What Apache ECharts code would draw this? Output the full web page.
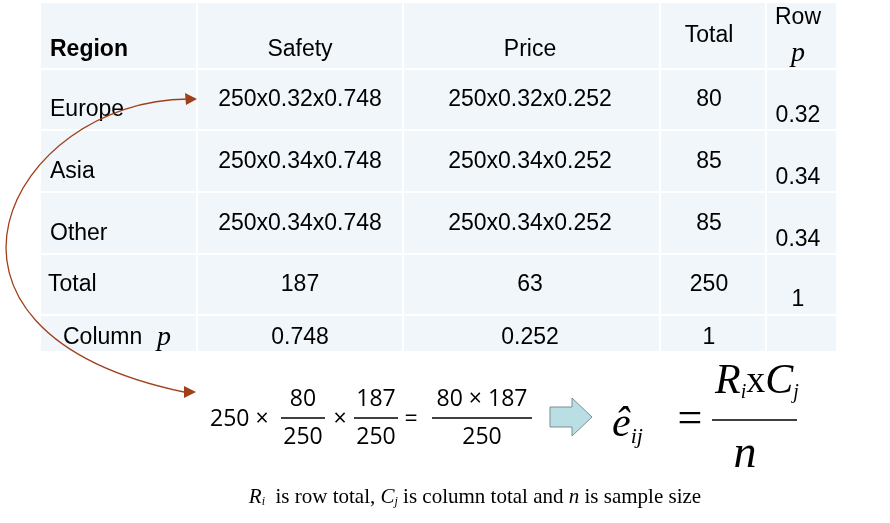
<!DOCTYPE html>
<html>
<head>
<meta charset="utf-8">
<script src="https://cdn.jsdelivr.net/npm/echarts@6/dist/echarts.min.js"></script>
<style>html,body{margin:0;background:#fff}#c{width:890px;height:523px}</style>
</head>
<body>
<div id="c"></div>
<script>
// table contents
var headers = ['Region', 'Safety', 'Price', 'Total', 'Row']
var regions = ['Europe', 'Asia', 'Other', 'Total', 'Column']
var safety = ['250x0.32x0.748', '250x0.34x0.748', '250x0.34x0.748', '187', '0.748']
var price = ['250x0.32x0.252', '250x0.34x0.252', '250x0.34x0.252', '63', '0.252']
var totals = ['80', '85', '85', '250', '1']
var rowP = ['0.32', '0.34', '0.34', '1', '']

var colX = [40, 197, 403, 660, 766, 837]
var rowY = [2, 69, 130, 192, 254, 315, 352]
var sans = 'Liberation Sans, Arial, sans-serif'
var serif = 'Liberation Serif, Times New Roman, serif'

var g = []
// cell backgrounds
for (var r = 0; r < rowY.length - 1; r++) {
  for (var c = 0; c < colX.length - 1; c++) {
    g.push({ type: 'rect', shape: { x: colX[c] + 1, y: rowY[r] + 1, width: colX[c + 1] - colX[c] - 2, height: rowY[r + 1] - rowY[r] - 2 }, style: { fill: '#f0f6fa' } })
  }
}
function txt(x, y, t, o) {
  o = o || {}
  g.push({ type: 'text', x: x, y: y, style: { text: t, fill: '#000', font: (o.i ? 'italic ' : '') + (o.w || 'normal') + ' ' + (o.s || 23) + 'px ' + (o.f || sans), align: o.a || 'center', verticalAlign: 'middle' } })
}
var cx = [300, 530, 709, 798]
txt(50, 50, headers[0], { a: 'left', w: 'bold' })
txt(cx[0], 50, headers[1])
txt(cx[1], 50, headers[2])
txt(cx[2], 36, headers[3])
txt(cx[3], 18, headers[4])
txt(cx[3], 54, 'p', { f: serif, i: true, s: 28 })

var labY = [110, 172, 234, 285, 338]
var valY = [100, 162, 224, 285, 338]
var pY = [116, 178, 240, 300, 338]
for (var i = 0; i < regions.length; i++) {
  if (i < 4) txt(i === 3 ? 48 : 50, labY[i], regions[i], { a: 'left' })
  txt(cx[0], valY[i], safety[i])
  txt(cx[1], valY[i], price[i])
  txt(cx[2], valY[i], totals[i])
  if (rowP[i]) txt(cx[3], pY[i], rowP[i])
}
txt(63, 338, regions[4], { a: 'left' })
txt(157, 338, 'p', { a: 'left', f: serif, i: true, s: 28 })

// curved arrow
g.push({ type: 'bezierCurve', shape: { x1: 188, y1: 99, cpx1: 10, cpy1: 100, cpx2: -110, cpy2: 330, x2: 184, y2: 392 }, style: { stroke: '#a0401a', lineWidth: 1.3, fill: null } })
g.push({ type: 'polygon', shape: { points: [[197, 99], [185, 93], [186, 105]] }, style: { fill: '#a0401a' } })
g.push({ type: 'polygon', shape: { points: [[196, 392], [184, 386], [184, 398]] }, style: { fill: '#a0401a' } })

// worked formula
var fs = { s: 23, f: 'Open Sans, Liberation Sans, sans-serif' }
txt(210, 419, '250 ×', { a: 'left', s: 23, f: fs.f })
function frac(x, num, den, w) {
  txt(x, 399, num, fs)
  txt(x, 437, den, fs)
  g.push({ type: 'line', shape: { x1: x - w / 2, y1: 418, x2: x + w / 2, y2: 418 }, style: { stroke: '#000', lineWidth: 1.5 } })
}
frac(303, '80', '250', 44)
txt(340, 419, '×', fs)
frac(376, '187', '250', 44)
txt(411, 419, '=', fs)
frac(482, '80 × 187', '250', 100)

// block arrow
g.push({ type: 'polygon', shape: { points: [[550, 407], [572, 407], [572, 398], [592, 417], [572, 436], [572, 427], [550, 427]] }, style: { fill: '#b9dfe4', stroke: '#7f8c8f', lineWidth: 1 } })

// general formula
g.push({ type: 'text', x: 612, y: 425, style: { text: '{e|ê}{s|ij}', verticalAlign: 'middle', rich: { e: { font: 'italic 42px ' + serif, fill: '#000' }, s: { font: 'italic 22px ' + serif, fill: '#000', padding: [24, 0, 0, 0] } } } })
g.push({ type: 'text', x: 690, y: 420, style: { text: '=', font: '44px ' + serif, fill: '#000', align: 'center', verticalAlign: 'middle' } })
g.push({ type: 'text', x: 757, y: 382, style: { text: '{e|R}{s|i}{x|x}{e|C}{s|j}', align: 'center', verticalAlign: 'middle', rich: { e: { font: 'italic 42px ' + serif, fill: '#000' }, x: { font: '38px ' + serif, fill: '#000' }, s: { font: 'italic 20px ' + serif, fill: '#000', padding: [22, 0, 0, 0] } } } })
g.push({ type: 'line', shape: { x1: 712, y1: 420, x2: 797, y2: 420 }, style: { stroke: '#000', lineWidth: 1.5 } })
txt(745, 455, 'n', { s: 46, f: serif, i: true })

// caption
g.push({ type: 'text', x: 475, y: 497, style: { text: '{i|R}{s|i}{t|  is row total, }{i|C}{s|j}{t| is column total and }{i|n}{t| is sample size}', align: 'center', verticalAlign: 'middle', rich: { i: { font: 'italic 21px ' + serif, fill: '#000' }, t: { font: '21px ' + serif, fill: '#000' }, s: { font: 'italic 12px ' + serif, fill: '#000', padding: [10, 0, 0, 0] } } } })

var chart = echarts.init(document.getElementById('c'))
chart.setOption({ animation: false, graphic: g })
</script>
</body>
</html>
